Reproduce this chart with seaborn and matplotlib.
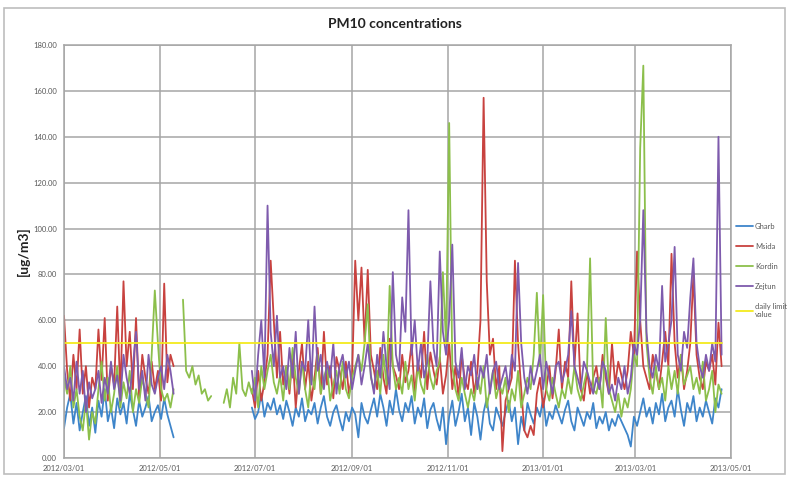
import numpy as np
import pandas as pd
import seaborn as sns
from matplotlib import pyplot as plt
from matplotlib.lines import Line2D
from matplotlib.patches import Rectangle
import matplotlib.dates as mdates

nan = np.nan

# PM10 readings, one value every second day from 2012/03/01
start_date = '2012-03-01'
step = '2D'
limit_value = 50.0

gharb = [13, 22, 28, 15, 24, 12, 20, 27, 14, 22,
         11, 25, 18, 30, 16, 22, 13, 26, 19, 24,
         15, 28, 21, 14, 25, 18, 22, 27, 16, 20,
         23, 17, 26, 19, 14, 9] + [nan] * 24 + [
         22, 17, 20, 28, 18, 24, 21, 26, 19, 23,
         17, 25, 20, 14, 22, 18, 26, 16, 21, 19,
         24, 15, 22, 27, 18, 14, 20, 23, 17, 12,
         20, 16, 22, 19, 9, 24, 18, 15, 21, 26,
         18, 28, 22, 14, 25, 19, 30, 21, 16, 24,
         20, 27, 15, 22, 18, 26, 13, 21, 24, 17,
         12, 22, 6, 18, 25, 14, 20, 28, 16, 22,
         10, 24, 18, 8, 20, 26, 15, 12, 22, 18,
         14, 20, 25, 16, 22, 6, 18, 12, 24, 19,
         15, 22, 18, 26, 14, 20, 17, 23, 19, 15,
         21, 25, 16, 12, 22, 18, 14, 20, 17, 24,
         13, 18, 15, 20, 12, 17, 14, 19, 16, 13,
         10, 5, 18, 14, 20, 26, 18, 22, 15, 24,
         19, 28, 16, 22, 25, 18, 30, 21, 14, 24,
         20, 27, 16, 22, 18, 25, 20, 15, 26, 22, 30]

msida = [62, 38, 25, 45, 30, 56, 28, 40, 22, 35,
         30, 56, 34, 61, 25, 40, 32, 66, 28, 77,
         40, 55, 30, 61, 26, 45, 35, 28, 42, 30,
         38, 25, 76, 33, 45, 40] + [nan] * 24 + [
         30, 22, 38, 25, 33, 45, 86, 60, 35, 55,
         32, 40, 28, 45, 22, 38, 50, 30, 42, 25,
         35, 48, 28, 55, 32, 40, 26, 44, 38, 30,
         42, 28, 36, 86, 60, 83, 50, 82, 45, 38,
         30, 48, 35, 28, 52, 40, 36, 30, 45, 33,
         38, 50, 28, 42, 35, 55, 30, 46, 38, 32,
         44, 28, 36, 50, 30, 40, 26, 45, 34, 30,
         42, 28, 38, 60, 157, 77, 45, 52, 30, 40,
         3, 25, 30, 35, 86, 50, 30, 12, 9, 14,
         10, 28, 35, 22, 30, 40, 26, 38, 56, 30,
         42, 35, 77, 40, 63, 30, 25, 38, 28, 35,
         40, 30, 45, 35, 28, 50, 32, 42, 36, 30,
         38, 55, 45, 90, 60, 40, 35, 30, 45, 38,
         30, 42, 55, 40, 89, 50, 35, 45, 30, 38,
         50, 80, 45, 35, 30, 42, 38, 45, 32, 59, 40]

kordin = [35, 28, 40, 22, 30, 18, 12, 25, 8, 20,
          15, 30, 42, 25, 35, 20, 28, 40, 22, 33,
          26, 38, 20, 30, 24, 35, 28, 22, 45, 73,
          50, 30, 25, 28, 22, 30] + [nan] * 2 + [
          69, 38, 35, 40, 32, 36, 28, 30, 25, 27] + [nan] * 3 + [
          24, 30, 22, 35, 28, 50, 30, 27, 33,
          28, 35, 22, 40, 30, 38, 45, 33, 28, 36,
          25, 40, 30, 48, 35, 28, 42, 30, 22, 38,
          30, 45, 28, 35, 40, 25, 32, 38, 28, 42,
          30, 26, 35, 40, 45, 38, 50, 67, 35, 30,
          38, 28, 45, 32, 75, 40, 30, 35, 28, 42,
          30, 36, 25, 40, 32, 28, 45, 35, 30, 38,
          42, 81, 50, 146, 40, 30, 25, 35, 28, 22,
          30, 25, 35, 28, 40, 22, 30, 38, 26, 32,
          28, 35, 20, 30, 25, 38, 22, 28, 35, 30,
          45, 72, 40, 71, 30, 25, 35, 28, 22, 30,
          26, 35, 28, 40, 30, 25, 32, 38, 87, 30,
          28, 35, 22, 61, 30, 25, 20, 28, 18, 26,
          22, 30, 45, 40, 135, 171, 50, 35, 28, 40,
          30, 35, 25, 40, 30, 38, 28, 45, 32, 36,
          40, 30, 35, 28, 42, 25, 30, 38, 20, 32, 28]

zejtun = [40, 30, 35, 25, 42, 28, 38, 20, 33, 26,
          30, 38, 24, 35, 28, 42, 30, 36, 25, 45,
          35, 28, 40, 55, 30, 38, 25, 45, 32, 28,
          35, 40, 30, 45, 38, 28] + [nan] * 24 + [
          38, 25, 45, 60, 35, 110, 55, 40, 62, 35,
          40, 30, 48, 35, 55, 28, 42, 38, 60, 32,
          66, 38, 45, 30, 42, 35, 50, 28, 40, 45,
          35, 42, 30, 38, 45, 32, 40, 50, 36, 28,
          45, 35, 55, 40, 30, 81, 45, 38, 70, 55,
          108, 45, 60, 38, 50, 35, 42, 77, 48, 40,
          90, 55, 45, 60, 93, 42, 35, 48, 30, 40,
          36, 45, 30, 40, 35, 45, 28, 38, 42, 30,
          35, 40, 30, 45, 38, 85, 50, 35, 28, 40,
          32, 38, 45, 30, 42, 35, 28, 40, 42, 33,
          38, 45, 64, 40, 35, 30, 42, 38, 33, 28,
          35, 30, 42, 38, 28, 32, 25, 35, 30, 40,
          28, 35, 50, 45, 60, 108, 55, 40, 35, 45,
          38, 75, 42, 50, 60, 92, 45, 38, 55, 48,
          70, 87, 50, 40, 35, 45, 38, 50, 42, 140, 45]

series_names = ['Gharb', 'Msida', 'Kordin', 'Zejtun', 'daily limit value']
palette = {'Gharb': '#3E85CA', 'Msida': '#C8423F', 'Kordin': '#8CBF4B',
           'Zejtun': '#7E5BAD', 'daily limit value': '#F3EA1E'}
legend_labels = ['Gharb', 'Msida', 'Kordin', 'Zejtun', 'daily limit\nvalue']

dates = pd.date_range(start_date, periods=len(gharb), freq=step)
wide = pd.DataFrame({'Gharb': gharb, 'Msida': msida, 'Kordin': kordin,
                     'Zejtun': zejtun}, index=dates)
wide['daily limit value'] = limit_value
df = wide.reset_index(names='date').melt('date', var_name='station', value_name='pm10')
# break the lines where readings are missing
df['seg'] = df.groupby('station')['pm10'].transform(lambda s: s.isna().cumsum())
df = df.dropna()

sns.set_style('white')
plt.rcParams['font.family'] = ['Lato', 'DejaVu Sans']

fig = plt.figure(figsize=(7.89, 4.78), dpi=100)
ax = fig.add_axes([64 / 789, 20 / 478, 667 / 789, 413 / 478])

sns.lineplot(data=df, x='date', y='pm10', hue='station', hue_order=series_names,
             units='seg', estimator=None, palette=palette, lw=1.3,
             legend=False, ax=ax)

grid_c = '#A6A6A6'
ax.set_ylim(0, 180)
ax.set_yticks(np.arange(0, 181, 20))
ax.yaxis.set_major_formatter(plt.FormatStrFormatter('%.2f'))
ax.set_xlim(pd.Timestamp('2012-03-01'), pd.Timestamp('2013-05-01'))
ax.xaxis.set_major_locator(mdates.MonthLocator(bymonth=[1, 3, 5, 7, 9, 11]))
ax.xaxis.set_major_formatter(mdates.DateFormatter('%Y/%m/%d'))
ax.grid(True, color=grid_c, lw=1.1)
ax.set_axisbelow(True)
for s in ax.spines.values():
    s.set_color(grid_c)
    s.set_linewidth(1.1)
ax.tick_params(axis='both', labelsize=5.5, colors=grid_c,
               length=3, width=0.8, pad=2, direction='out')
ax.tick_params(axis='both', labelcolor='#595959')
ax.set_xlabel('')
ax.set_ylabel('[ug/m3]', fontsize=10, fontweight='bold', color='#222222')
ax.yaxis.set_label_coords(-0.051, 0.5)
fig.text(0.5, 1 - 24 / 478, 'PM10 concentrations', ha='center', va='center',
         fontsize=10, fontweight='bold', color='#222222')

handles = [Line2D([], [], color=palette[n], lw=1.3) for n in series_names]
fig.legend(handles, legend_labels, loc='upper left',
           bbox_to_anchor=(729 / 789, 1 - 216 / 478), frameon=False,
           fontsize=5.5, labelcolor='#595959', handlelength=2.2,
           handletextpad=0.3, labelspacing=1.7)

fig.patches.append(Rectangle((4 / 789, 4 / 478), 781 / 789, 466 / 478,
                             transform=fig.transFigure, fill=False,
                             ec='#BDBDBD', lw=1.2))

fig.savefig('out.png', dpi=100)
